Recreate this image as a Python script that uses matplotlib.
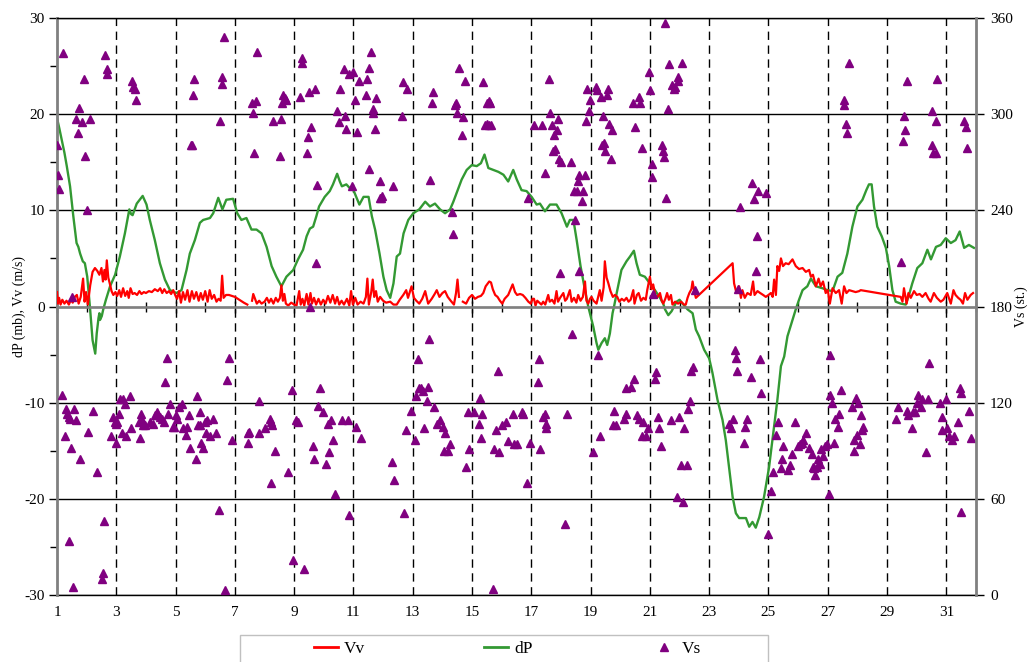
import numpy as np
import matplotlib
matplotlib.use('Agg')
import matplotlib.pyplot as plt
from matplotlib.lines import Line2D
from matplotlib.patches import Rectangle
from matplotlib.ticker import FixedLocator, MultipleLocator

plt.rcParams['font.family'] = ['Liberation Serif', 'DejaVu Serif']
plt.rcParams['axes.unicode_minus'] = False

# === Data ===
# Vv, vertical wind speed (m/s); nan = gap in the record
vv_x = [1.00, 1.03, 1.07, 1.12, 1.18, 1.25, 1.32, 1.40, 1.47, 1.53, 1.60, 1.67, 1.73, 1.80, 1.88,
        1.93, 1.98, 2.04, 2.12, 2.20, 2.28, 2.36, 2.43, 2.50, 2.55, 2.60, 2.64, 2.68, 2.73, 2.78,
        2.84, 2.90, 2.97, 3.03, 3.10, 3.16, 3.23, 3.30, 3.37, 3.42, 3.48, 3.55, 3.62, 3.70, 3.78,
        3.85, 3.93, 4.00, 4.10, 4.20, 4.30, 4.40, 4.48, 4.55, 4.62, 4.70, 4.78, 4.85, 4.92, 5.00,
        5.05, 5.12, 5.18, 5.25, 5.32, 5.40, 5.47, 5.55, 5.62, 5.70, 5.78, 5.85, 5.92, 6.00, 6.08,
        6.15, 6.22, 6.30, 6.38, 6.45, 6.52, 6.57, 6.62, 6.70, 6.80, 6.90, 7.00, 7.10, 7.20, 7.30,
        7.42, 7.50, 7.58, 7.62, 7.68, 7.74, 7.82, 7.90, 8.00, 8.08, 8.15, 8.22, 8.30, 8.38, 8.45,
        8.52, 8.57, 8.62, 8.67, 8.72, 8.80, 8.90, 9.00, 9.08, 9.17, 9.22, 9.28, 9.34, 9.42, 9.48,
        9.55, 9.60, 9.67, 9.74, 9.82, 9.90, 9.98, 10.06, 10.14, 10.22, 10.30, 10.38, 10.45, 10.52, 10.60,
        10.68, 10.78, 10.86, 10.92, 10.98, 11.06, 11.14, 11.24, 11.34, 11.42, 11.47, 11.52, 11.60, 11.65, 11.70,
        11.76, 11.82, 11.90, 12.00, 12.10, 12.24, 12.35, 12.46, 12.56, 12.68, 12.78, 12.84, 12.96, 13.04, 13.12,
        13.22, 13.32, 13.42, 13.52, 13.64, 13.74, 13.81, 13.90, 14.00, 14.09, 14.18, 14.28, 14.39, 14.46, 14.51,
        14.56, 14.62, 14.69, 14.80, 14.90, 15.00, 15.10, 15.20, 15.30, 15.38, 15.46, 15.58, 15.64, 15.70, 15.78,
        15.86, 15.94, 16.02, 16.10, 16.22, 16.30, 16.37, 16.45, 16.52, 16.62, 16.71, 16.80, 16.90, 16.98, 17.04,
        17.09, 17.14, 17.20, 17.27, 17.34, 17.40, 17.47, 17.57, 17.62, 17.70, 17.78, 17.85, 17.90, 17.97, 18.08,
        18.14, 18.20, 18.30, 18.36, 18.44, 18.52, 18.58, 18.66, 18.74, 18.81, 18.86, 18.92, 18.98, 19.03, 19.10,
        19.20, 19.31, 19.37, 19.44, 19.48, 19.54, 19.60, 19.67, 19.75, 19.82, 19.90, 19.97, 20.05, 20.13, 20.21,
        20.28, 20.35, 20.44, 20.48, 20.56, 20.62, 20.70, 20.78, 20.86, 20.91, 21.00, 21.06, 21.11, 21.18, 21.24,
        21.34, 21.40, 21.45, 21.52, 21.58, 21.64, 21.71, 21.76, 21.85, 21.95, 22.05, 22.15, 22.21, 22.27, 22.33,
        22.40, 22.44, 22.49, 22.55, 23.79, 23.84, 23.92, 24.01, 24.07, 24.12, 24.20, 24.29, 24.40, 24.48, 24.53,
        24.63, 24.72, 24.82, 24.91, 25.00, 25.08, 25.14, 25.19, 25.25, 25.30, 25.36, 25.42, 25.49, 25.58, 25.68,
        25.81, 25.92, 26.03, 26.15, 26.26, 26.37, 26.43, 26.50, 26.60, 26.69, 26.76, 26.84, 26.93, 27.00, 27.07,
        27.16, 27.27, 27.38, 27.47, 27.55, 27.63, 27.72, 27.83, 27.94, 28.06, 28.11, 29.46, 29.52, 29.57, 29.66,
        29.72, 29.80, 29.91, 30.00, 30.10, 30.19, 30.30, 30.40, 30.47, 30.58, 30.68, 30.81, 30.90, 31.03, 31.15,
        31.24, 31.31, 31.40, 31.48, 31.56, 31.63, 31.71, 31.82, 31.90]
vv = [1.5, 0.3, 0.9, 0.2, 0.7, 0.3, 0.6, 0.2, 0.7, 0.4, 1.0, 1.2, 0.3, 1.0, 2.9,
      0.5, 1.5, 0.2, 2.2, 3.6, 4.0, 3.7, 3.3, 4.0, 2.6, 3.8, 2.8, 4.8, 3.0, 2.4,
      1.6, 1.2, 1.5, 1.1, 1.7, 1.0, 1.9, 1.1, 1.6, 0.9, 1.9, 1.3, 1.4, 1.2, 1.6,
      1.3, 1.5, 1.4, 1.6, 1.5, 1.8, 1.6, 1.9, 1.4, 1.8, 1.4, 1.6, 1.3, 1.7, 1.1,
      0.8, 1.6, 0.4, 1.5, 0.7, 1.7, 0.5, 1.6, 0.8, 1.5, 0.6, 1.4, 0.7, 1.6, 0.5,
      1.7, 0.8, 1.2, 0.5, 0.8, 0.6, 3.2, 0.9, 1.2, 1.2, 1.1, 1.0, 0.8, 0.6, 0.4,
      0.2, np.nan, 0.6, 1.3, 0.8, 0.3, 0.6, 0.3, 0.5, 0.9, 0.4, 0.8, 0.3, 0.9, 0.5,
      0.9, 2.2, 0.6, 1.3, 0.3, 0.1, 0.4, 0.2, 0.1, 1.6, 0.2, 0.8, 0.1, 1.3, 0.2,
      1.4, 0.3, 0.9, 0.2, 0.8, 0.2, 0.7, 0.3, 1.1, 0.4, 1.2, 0.3, 1.0, 0.2, 0.6,
      0.2, 0.8, 0.1, 1.6, 0.2, 0.9, 0.2, 0.5, 0.3, 1.0, 2.9, 0.2, 1.5, 2.8, 1.0,
      1.6, 0.5, 1.0, 0.6, 0.4, 0.5, 0.2, 0.2, 0.7, 1.2, 1.7, 0.9, 2.1, 0.9, 0.6,
      0.3, 0.8, 1.6, 0.3, 0.8, 1.3, 1.7, 1.0, 1.4, 1.6, 1.0, 0.6, 0.2, 1.4, 2.8,
      1.0, np.nan, 0.5, 0.3, 0.9, 1.2, 0.8, 1.0, 1.1, 1.4, 2.1, 2.6, 2.5, 1.8, 1.2,
      1.0, 0.6, 0.3, 0.8, 1.2, 1.8, 2.3, 1.5, 1.2, 1.3, 1.2, 0.9, 0.5, 0.3, 0.8,
      0.8, 0.1, 0.6, 0.4, 0.2, 0.5, 0.2, 1.2, 0.5, 0.7, 0.3, 1.6, 0.5, 0.9, 1.4,
      0.6, 0.8, 1.7, 0.5, 0.9, 0.4, 1.2, 0.6, 1.0, 2.6, 0.6, 0.3, 0.8, 1.0, 0.6,
      0.3, 1.7, 0.6, 2.0, 4.7, 3.0, 2.4, 1.6, 1.0, 1.2, 1.0, 0.5, 0.8, 0.6, 0.9,
      0.5, 0.7, 1.7, 0.3, 1.2, 1.4, 0.6, 0.9, 0.7, 1.7, 3.1, 1.8, 2.3, 1.2, 0.9,
      1.4, 0.6, 0.3, 0.8, 1.4, 0.7, 1.2, 0.2, 0.5, 0.3, 0.5, 0.2, 0.2, 0.9, 1.4,
      1.8, 2.6, 1.7, 0.9, 4.5, 2.4, 1.4, 2.1, 0.9, 1.7, 0.9, 1.4, 1.2, 2.6, 1.2,
      1.6, 1.4, 1.2, 1.0, 1.2, 1.4, 1.0, 2.8, 1.2, 4.2, 3.7, 5.0, 4.2, 4.5, 4.4,
      4.9, 4.2, 3.9, 4.0, 3.6, 3.8, 3.1, 3.3, 2.1, 2.9, 2.1, 2.6, 1.4, 1.7, 0.3,
      1.9, 1.4, 1.7, 0.3, 2.1, 1.4, 1.7, 1.6, 1.5, 1.6, 1.7, 1.0, 0.5, 1.9, 0.3,
      1.4, 0.9, 1.6, 1.2, 1.3, 1.0, 1.4, 0.8, 0.5, 1.4, 0.9, 0.5, 0.7, 1.4, 0.3,
      1.7, 1.2, 0.9, 0.7, 0.3, 1.4, 0.7, 1.2, 1.4]

# dP, pressure change (mb)
dp_x = [1.00, 1.08, 1.16, 1.25, 1.33, 1.44, 1.55, 1.66, 1.72, 1.78, 1.87, 1.94, 2.02, 2.11, 2.20,
        2.29, 2.34, 2.40, 2.43, 2.45, 2.51, 2.56, 2.65, 2.79, 2.96, 3.12, 3.29, 3.44, 3.50, 3.55,
        3.69, 3.89, 4.02, 4.13, 4.30, 4.47, 4.64, 4.81, 5.03, 5.20, 5.37, 5.48, 5.65, 5.82, 5.93,
        6.16, 6.27, 6.44, 6.58, 6.71, 6.94, 7.08, 7.22, 7.39, 7.56, 7.73, 7.90, 8.07, 8.24, 8.40,
        8.57, 8.74, 8.97, 9.13, 9.30, 9.42, 9.53, 9.64, 9.75, 9.84, 10.03, 10.20, 10.31, 10.45, 10.54,
        10.61, 10.76, 10.88, 11.00, 11.20, 11.34, 11.51, 11.62, 11.73, 11.88, 12.01, 12.12, 12.24, 12.35, 12.46,
        12.57, 12.69, 12.85, 13.02, 13.22, 13.42, 13.58, 13.75, 13.92, 14.09, 14.26, 14.37, 14.48, 14.65, 14.82,
        14.99, 15.16, 15.30, 15.42, 15.55, 15.72, 15.89, 16.06, 16.22, 16.39, 16.51, 16.67, 16.84, 17.01, 17.18,
        17.29, 17.46, 17.63, 17.85, 18.02, 18.20, 18.30, 18.42, 18.53, 18.66, 18.81, 18.92, 19.09, 19.20, 19.26,
        19.37, 19.48, 19.56, 19.65, 19.74, 19.79, 19.88, 20.04, 20.21, 20.33, 20.46, 20.55, 20.66, 20.83, 21.00,
        21.17, 21.34, 21.45, 21.51, 21.62, 21.73, 21.90, 22.00, 22.10, 22.27, 22.44, 22.55, 22.66, 22.83, 23.00,
        23.11, 23.28, 23.45, 23.56, 23.67, 23.79, 23.90, 24.01, 24.24, 24.35, 24.46, 24.57, 24.69, 24.85, 25.02,
        25.19, 25.30, 25.42, 25.53, 25.64, 25.81, 25.92, 26.03, 26.15, 26.31, 26.43, 26.60, 26.82, 26.99, 27.16,
        27.33, 27.49, 27.66, 27.83, 28.00, 28.17, 28.30, 28.39, 28.48, 28.56, 28.67, 28.82, 28.96, 29.07, 29.18,
        29.29, 29.46, 29.63, 29.74, 29.85, 30.02, 30.19, 30.36, 30.48, 30.65, 30.81, 30.98, 31.15, 31.31, 31.45,
        31.60, 31.76, 31.93]
dp = [19.6, 18.5, 17.3, 16.0, 14.6, 12.5, 9.4, 6.6, 6.2, 5.5, 4.7, 4.5, 3.1, 0.0, -3.5,
      -4.9, -2.8, -1.2, -0.7, -1.4, -1.0, -0.3, 0.7, 2.1, 3.3, 5.2, 7.6, 10.1, 9.6, 9.5,
      10.7, 11.5, 10.6, 9.0, 6.9, 4.5, 2.8, 1.7, 1.4, 1.7, 3.8, 5.5, 6.9, 8.7, 9.0,
      9.2, 9.7, 11.3, 10.1, 11.1, 11.2, 9.7, 9.0, 9.2, 8.0, 8.0, 7.6, 6.2, 4.2, 3.1,
      2.1, 3.1, 3.8, 4.9, 5.9, 7.3, 8.1, 8.3, 9.4, 10.4, 11.4, 12.0, 12.7, 13.8, 13.0,
      12.5, 12.7, 12.3, 12.1, 10.6, 11.4, 11.4, 9.4, 8.0, 5.5, 3.1, 1.7, 0.9, 2.4, 5.2,
      5.5, 7.6, 9.0, 9.7, 10.1, 10.9, 10.4, 10.7, 10.1, 9.7, 10.1, 10.9, 11.8, 13.2, 14.2,
      14.7, 14.6, 14.9, 15.8, 14.4, 14.2, 14.0, 13.7, 13.0, 14.2, 13.2, 12.1, 12.0, 11.4, 10.6,
      10.7, 9.9, 10.6, 10.6, 9.7, 8.3, 9.0, 9.0, 6.9, 4.2, 1.7, 0.0, -2.1, -3.8, -4.5,
      -3.8, -3.3, -4.0, -2.8, -0.7, 0.0, 1.4, 3.8, 4.7, 5.2, 5.8, 4.5, 3.3, 3.1, 2.4,
      1.7, 0.9, 0.3, -0.3, -0.9, -0.5, 0.5, 0.7, 0.3, -0.3, -0.7, -2.4, -3.1, -4.5, -5.4,
      -6.9, -9.7, -11.8, -13.9, -16.7, -19.8, -21.5, -22.0, -22.0, -22.9, -22.4, -23.0, -21.9, -19.8, -16.7,
      -12.5, -9.7, -6.2, -5.2, -3.1, -1.4, -0.3, 0.7, 1.7, 2.1, 2.9, 2.1, 1.9, 1.7, 1.6,
      3.1, 3.5, 5.5, 8.3, 10.4, 11.1, 12.1, 12.7, 12.7, 10.4, 8.3, 7.3, 6.1, 4.2, 1.7,
      0.5, 0.3, 0.2, 1.2, 2.4, 4.0, 4.5, 5.9, 4.9, 6.2, 6.4, 7.1, 6.6, 6.9, 7.8,
      6.1, 6.4, 6.1]

# Vs, wind direction (degrees, right axis)
vs_x = [1.00, 1.02, 1.07, 1.19, 1.49, 1.65, 1.70, 1.74, 1.83, 1.91, 1.96, 2.00, 2.11, 2.62, 2.67,
        2.70, 3.53, 3.58, 3.63, 3.66, 5.52, 5.54, 5.58, 5.63, 6.49, 6.55, 6.57, 6.63, 7.58, 7.62,
        7.64, 7.71, 7.75, 8.29, 8.52, 8.54, 8.58, 8.62, 8.68, 8.74, 9.19, 9.25, 9.28, 9.42, 9.47,
        9.51, 9.53, 9.58, 9.70, 9.75, 9.78, 10.45, 10.52, 10.54, 10.67, 10.70, 10.76, 10.85, 10.96, 11.00,
        11.06, 11.13, 11.18, 11.43, 11.47, 11.52, 11.54, 11.60, 11.65, 11.67, 11.72, 11.76, 11.88, 11.88, 11.92,
        11.95, 12.33, 12.63, 12.66, 12.80, 13.58, 13.64, 13.67, 14.31, 14.37, 14.42, 14.46, 14.50, 14.57, 14.66,
        14.69, 14.75, 15.38, 15.44, 15.50, 15.51, 15.56, 15.58, 15.62, 15.63, 16.89, 17.10, 17.35, 17.45, 17.60,
        17.63, 17.69, 17.72, 17.76, 17.80, 17.86, 17.90, 17.92, 17.97, 18.00, 18.33, 18.43, 18.46, 18.55, 18.58,
        18.60, 18.62, 18.72, 18.75, 18.81, 18.84, 18.89, 18.93, 18.98, 19.18, 19.22, 19.34, 19.40, 19.43, 19.46,
        19.50, 19.54, 19.60, 19.63, 19.69, 19.72, 20.44, 20.50, 20.62, 20.67, 20.73, 20.98, 21.00, 21.06, 21.08,
        21.11, 21.40, 21.43, 21.46, 21.50, 21.54, 21.60, 21.66, 21.76, 21.82, 21.85, 21.94, 21.95, 22.08, 22.53,
        23.98, 24.03, 24.46, 24.52, 24.57, 24.60, 24.64, 24.93, 27.55, 27.56, 27.60, 27.66, 27.70, 29.48, 29.53,
        29.57, 29.60, 29.66, 30.53, 30.53, 30.55, 30.64, 30.64, 30.70, 31.60, 31.65, 31.70,
        1.17, 1.26, 1.30, 1.34, 1.39, 1.45, 1.39, 1.47, 1.54, 1.58, 1.64, 1.79, 2.04, 2.21, 2.35,
        2.52, 2.55, 2.60, 2.83, 2.90, 2.95, 2.98, 3.00, 3.02, 3.10, 3.13, 3.19, 3.24, 3.30, 3.34,
        3.47, 3.50, 3.76, 3.79, 3.84, 3.87, 3.90, 3.98, 4.15, 4.25, 4.30, 4.36, 4.42, 4.48, 4.54,
        4.60, 4.64, 4.71, 4.76, 4.82, 4.90, 4.96, 5.00, 5.04, 5.12, 5.20, 5.26, 5.35, 5.40, 5.44,
        5.47, 5.68, 5.72, 5.76, 5.82, 5.83, 5.86, 5.93, 5.99, 6.04, 6.07, 6.17, 6.26, 6.37, 6.45,
        6.67, 6.75, 6.80, 6.92, 7.43, 7.43, 7.47, 7.80, 7.80, 8.02, 8.19, 8.22, 8.25, 8.22, 8.35,
        8.80, 8.93, 8.96, 9.05, 9.12, 9.34, 9.63, 9.67, 9.82, 9.88, 9.97, 10.06, 10.13, 10.19, 10.25,
        10.30, 10.38, 10.60, 10.80, 10.84, 11.09, 11.26, 12.29, 12.38, 12.72, 12.78, 12.93, 13.06, 13.10, 13.18,
        13.22, 13.28, 13.34, 13.39, 13.47, 13.50, 13.55, 13.73, 13.81, 13.92, 14.01, 14.06, 14.09, 14.19, 14.27,
        14.80, 14.85, 14.89, 15.07, 15.22, 15.27, 15.30, 15.34, 15.70, 15.75, 15.80, 15.89, 15.92, 16.00, 16.13,
        16.22, 16.37, 16.43, 16.50, 16.67, 16.71, 16.84, 16.97, 17.22, 17.27, 17.29, 17.40, 17.45, 17.50, 17.50,
        18.13, 18.21, 18.38, 19.09, 19.26, 19.31, 19.74, 19.79, 19.85, 20.13, 20.19, 20.21, 20.36, 20.47, 20.55,
        20.64, 20.74, 20.78, 20.87, 20.92, 21.17, 21.22, 21.28, 21.31, 21.36, 21.72, 21.91, 21.99, 22.04, 22.10,
        22.16, 22.24, 22.28, 22.36, 22.40, 22.47, 23.67, 23.73, 23.81, 23.88, 23.90, 23.93, 24.16, 24.21, 24.29,
        24.42, 24.70, 24.75, 24.99, 25.08, 25.16, 25.25, 25.33, 25.42, 25.45, 25.49, 25.67, 25.71, 25.78, 25.91,
        26.01, 26.07, 26.13, 26.18, 26.27, 26.37, 26.46, 26.49, 26.54, 26.58, 26.62, 26.68, 26.73, 26.78, 26.85,
        26.89, 26.97, 27.03, 27.07, 27.09, 27.15, 27.20, 27.26, 27.33, 27.39, 27.44, 27.83, 27.89, 27.89, 27.94,
        28.00, 28.02, 28.08, 28.11, 28.16, 28.19, 29.30, 29.38, 29.66, 29.72, 29.83, 29.89, 29.94, 30.00, 30.06,
        30.13, 30.17, 30.30, 30.39, 30.43, 30.78, 30.84, 30.84, 31.00, 31.03, 31.09, 31.18, 31.27, 31.40, 31.45,
        31.48, 31.51, 31.78, 31.83]
vs = [281, 262, 253, 338, 186, 297, 288, 304, 295, 322, 274, 240, 297, 337, 328,
      325, 321, 317, 316, 309, 281, 281, 312, 322, 296, 319, 323, 348, 307, 301,
      276, 308, 339, 296, 274, 297, 307, 312, 310, 309, 311, 335, 332, 276, 286,
      314, 180, 292, 316, 207, 256, 302, 295, 316, 328, 299, 291, 325, 255, 326,
      309, 289, 321, 312, 322, 329, 266, 339, 301, 303, 291, 310, 258, 248, 248,
      249, 255, 299, 320, 316, 259, 307, 314, 239, 225, 306, 307, 301, 329, 287,
      298, 321, 320, 293, 307, 294, 308, 293, 307, 293, 248, 293, 293, 263, 322,
      301, 293, 277, 287, 278, 290, 297, 272, 201, 270, 270, 252, 234, 252, 258,
      262, 202, 246, 252, 262, 296, 316, 302, 309, 317, 315, 311, 281, 299, 282,
      277, 312, 316, 294, 272, 290, 307, 292, 311, 307, 279, 326, 315, 269, 261,
      188, 281, 277, 273, 357, 248, 303, 331, 318, 316, 317, 323, 321, 332, 190,
      191, 242, 257, 247, 202, 224, 252, 251, 309, 306, 294, 288, 332, 208, 283,
      299, 290, 321, 302, 281, 276, 296, 276, 322, 296, 292, 279,
      125, 99, 116, 113, 111, 110, 34, 92, 5, 116, 109, 85, 102, 115, 77,
      10, 14, 46, 99, 111, 108, 107, 95, 108, 113, 122, 101, 122, 119, 99,
      124, 104, 108, 98, 113, 109, 106, 106, 108, 107, 112, 114, 112, 111, 110,
      108, 133, 148, 113, 119, 105, 105, 112, 110, 117, 119, 104, 100, 105, 112,
      92, 85, 124, 106, 114, 106, 95, 92, 108, 101, 109, 99, 110, 101, 53,
      3, 134, 148, 97, 101, 95, 102, 121, 101, 104, 110, 108, 106, 70, 90,
      77, 128, 22, 109, 108, 16, 93, 85, 118, 129, 114, 82, 107, 89, 109,
      97, 63, 109, 109, 50, 105, 98, 83, 72, 51, 103, 115, 97, 124, 147,
      129, 129, 127, 104, 121, 130, 160, 117, 107, 109, 105, 90, 101, 90, 94,
      80, 114, 91, 114, 107, 123, 98, 113, 4, 91, 103, 140, 89, 106, 108,
      96, 113, 94, 94, 114, 113, 70, 95, 133, 147, 91, 111, 113, 107, 104,
      44, 113, 163, 89, 150, 99, 106, 115, 106, 110, 129, 113, 130, 135, 112,
      110, 99, 108, 99, 104, 135, 139, 111, 104, 93, 109, 61, 111, 81, 58,
      104, 81, 116, 121, 140, 142, 107, 104, 110, 153, 148, 140, 95, 105, 110,
      136, 147, 126, 38, 65, 77, 100, 108, 79, 85, 93, 78, 81, 88, 108,
      93, 94, 95, 97, 101, 92, 88, 80, 79, 75, 80, 85, 82, 91, 87,
      93, 94, 63, 150, 125, 120, 95, 110, 105, 113, 128, 117, 90, 97, 123,
      100, 120, 94, 112, 103, 105, 110, 117, 115, 112, 104, 114, 114, 120, 125,
      117, 122, 89, 122, 145, 120, 111, 103, 122, 104, 99, 97, 99, 108, 129,
      126, 52, 115, 98]

day_ticks = list(range(1, 32, 2))
day_minor = list(range(2, 33, 2))

# === Figure ===
fig = plt.figure(figsize=(10.32, 6.62), dpi=100)
ax = fig.add_axes([57 / 1032, 1 - 595 / 662, (976 - 57) / 1032, (595 - 18) / 662])
ax2 = ax.twinx()

ax.set_xlim(1, 32)
ax.set_ylim(-30, 30)
ax2.set_ylim(0, 360)

# grid: solid horizontals, dashed verticals at the odd days
ax.yaxis.set_major_locator(MultipleLocator(10))
ax.yaxis.set_minor_locator(MultipleLocator(5))
ax.grid(axis='y', color='black', lw=1.0)
ax.vlines(day_ticks[1:], -30, 30, colors='black', lw=1.0, linestyles=(0, (6, 4)), zorder=1)

ax.plot(vv_x, vv, color='#ff0000', lw=1.6, zorder=3)
ax.plot(dp_x, dp, color='#339933', lw=1.7, zorder=2)
ax2.plot(vs_x, vs, ls='none', marker='^', ms=5.5, color='#800080', mec='#800080')

# x axis crosses at zero; labels stay at the bottom
ax.spines['bottom'].set_position(('data', 0))
ax.spines['bottom'].set_color('#808080')
ax.spines['bottom'].set_linewidth(1.8)
ax.spines['bottom'].set_zorder(4)
ax.xaxis.set_major_locator(FixedLocator(day_ticks))
ax.xaxis.set_minor_locator(FixedLocator(day_minor))
ax.tick_params(axis='x', which='major', direction='inout', length=8, width=1, labelbottom=False)
ax.tick_params(axis='x', which='minor', direction='inout', length=7, width=1)

sec = ax.secondary_xaxis(0.0)
sec.set_xticks(day_ticks)
sec.tick_params(length=0, pad=8, labelsize=11)
sec.spines['bottom'].set_linewidth(1.0)
sec.spines['bottom'].set_color('black')

ax.spines['left'].set_color('#808080')
ax.spines['left'].set_linewidth(2.0)
ax.spines['top'].set_color('black')
ax.spines['top'].set_linewidth(1.0)
ax.spines['right'].set_visible(False)
ax.tick_params(axis='y', which='major', direction='out', length=6, width=1, labelsize=11, pad=3)
ax.tick_params(axis='y', which='minor', direction='out', length=5, width=1)

for s in ['left', 'top', 'bottom']:
    ax2.spines[s].set_visible(False)
ax2.spines['right'].set_color('#808080')
ax2.spines['right'].set_linewidth(2.0)
ax2.yaxis.set_major_locator(MultipleLocator(60))
ax2.tick_params(axis='y', direction='out', length=6, width=1, labelsize=11, pad=4)

ax.set_ylabel('dP (mb), Vv (m/s)', fontsize=10, labelpad=-1)
ax2.set_ylabel('Vs (st.)', fontsize=10, labelpad=1)

# legend strip below the plot
handles = [Line2D([], [], color='#ff0000', lw=2),
           Line2D([], [], color='#339933', lw=2),
           Line2D([], [], ls='none', marker='^', ms=6, color='#800080')]
fig.legend(handles, ['Vv', 'dP', 'Vs'], ncol=3, mode='expand', frameon=False,
           loc='center', bbox_to_anchor=(305 / 1032, 0.005, 405 / 1032, 0.03),
           fontsize=12.5, handlelength=1.4, handletextpad=0.35, borderpad=0)
fig.add_artist(Rectangle((240 / 1032, -0.05), 528 / 1032, 0.05 + 27 / 662,
                         transform=fig.transFigure, fill=False, ec='#c0c0c0', lw=1))

fig.savefig('out.png', dpi=100)
